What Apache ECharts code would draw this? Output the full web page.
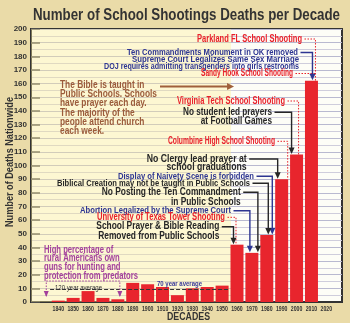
<!DOCTYPE html>
<html><head><meta charset="utf-8">
<script src="https://cdn.jsdelivr.net/npm/echarts@6/dist/echarts.min.js"></script>
<style>html,body{margin:0;padding:0;background:#eadba8;}#c{width:350px;height:323px;}</style>
</head><body><div id="c"></div>
<script>
// ---- data ----
const decades = [1840,1850,1860,1870,1880,1890,1900,1910,1920,1930,1940,1950,1960,1970,1980,1990,2000,2010,2020];
const deaths  = [1,3,8,3,2,14,13,11,5,10,11,12,42,36,49,90,108,162,0];
const yTickLabels = [0,10,20,30,40,50,60,70,80,90,100,110,120,130,140,150,160,170,180,190,200];
const average120 = 9;
const averageSpan = [1834.5, 1954];
const prayerEraEnd = 1956;
const titleText = 'Number of School Shootings Deaths per Decade';
const yAxisTitle = 'Number of Deaths Nationwide';
const xAxisTitle = 'DECADES';

const RED='#e8202a', BLUE='#2d3592', DARK='#262626', BROWN='#9b5b3b', PURPLE='#a3409c';
const FONT="'Liberation Sans',Arial,sans-serif";

const chart = echarts.init(document.getElementById('c'), null, {renderer:'canvas'});
const option = {
  backgroundColor:'#eadba8',
  animation:false,
  grid:{left:31,right:8,top:29,bottom:21,show:true,backgroundColor:'#fdfdf7',borderColor:'#333',borderWidth:2},
  xAxis:{type:'value',min:1821.7,max:2030.5,
    axisLine:{show:true,onZero:false,lineStyle:{color:'#333',width:2}},
    axisTick:{show:false},splitLine:{show:false},
    axisLabel:{show:false}},
  yAxis:{type:'value',min:0,max:200,interval:10,
    axisLine:{show:true,lineStyle:{color:'#333',width:2}},
    axisTick:{show:true,inside:true,length:9,lineStyle:{color:'#555',width:1.5}},
    axisLabel:{color:'#333',fontWeight:'bold',fontSize:8,fontFamily:FONT,margin:4,
      formatter:v=>yTickLabels.indexOf(v)>=0?String(v):''},
    splitLine:{show:true,lineStyle:{color:'#b9b9d0',width:1}},
    minorTick:{show:false,splitNumber:2},
    minorSplitLine:{show:true,lineStyle:{color:'#cfcddc',width:1}}},
  series:[{type:'bar',barWidth:13,
    data:decades.map((d,i)=>[d,deaths[i]]),
    itemStyle:{color:'#e8252d'},
    markArea:{silent:true,itemStyle:{color:'rgba(252,236,150,0.38)'},data:[[{xAxis:1821.7},{xAxis:prayerEraEnd}]]},
    markLine:{silent:true,symbol:['none','none'],label:{show:false},
      lineStyle:{color:'#333',type:[4,2],width:1},
      data:[[{coord:[averageSpan[0],average120]},{coord:[averageSpan[1],average120]}]]}
  }]
};
chart.setOption(option);

// ---- annotations ----
const mctx = document.createElement('canvas').getContext('2d');
function fit(lines,font,w){mctx.font=font;const m=Math.max(...lines.map(l=>mctx.measureText(l).width));return w?w/m:1;}
function texts(lines,o){
  const font=`${o.weight||'bold'} ${o.size}px ${FONT}`;
  const s=o.scale||fit(lines,font,o.w);
  return lines.map((ln,i)=>({type:'text',x:o.x,y:o.y+i*(o.lh||0),scaleX:s,rotation:o.rot||0,z:20,
    style:{text:ln,font,fill:o.color,textAlign:o.align||'left',textVerticalAlign:'middle'}}));
}
function P(x,y){return chart.convertToPixel({gridIndex:0},[x,y]);}
function cx(dec){return P(dec,0)[0];}
function barTop(dec){return P(dec,deaths[decades.indexOf(dec)])[1];}
function conn(pts,color,dotted,arrow){
  const p=pts.map(a=>a.slice());
  const els=[];
  if(arrow){const t=p[p.length-1];const tip=[t[0],t[1]-0.5];t[1]-=5;
    els.push({type:'polygon',z:18,shape:{points:[[tip[0]-3,tip[1]-6.5],[tip[0]+3,tip[1]-6.5],tip]},style:{fill:color}});}
  els.push({type:'polyline',z:17,shape:{points:p},style:{stroke:color,lineWidth:dotted?1:1.4,lineDash:dotted?[1.5,1.5]:null,fill:null}});
  return els;
}
const notes=[
 {l:['Parkland FL School Shooting'],x:302,y:39,w:105,size:10.5,c:RED,dec:2010,dx:4,t:'dot'},
 {l:['Ten Commandments Monument in OK removed'],x:298,y:52.5,w:171,size:9.5,c:BLUE,dec:2010,dx:1,t:'arrow'},
 {l:['Supreme Court Legalizes Same Sex Marriage'],x:299,y:59.5,w:167,size:9.5,c:BLUE},
 {l:['DOJ requires admitting transgenders into girls restrooms'],x:299,y:66.5,w:195,size:9.5,c:BLUE},
 {l:['Sandy Hook School Shooting'],x:293,y:73.5,w:92,size:10,c:RED,dec:2010,dx:4,t:'hdot'},
 {l:['Virginia Tech School Shooting'],x:285,y:101,w:108,size:10.5,c:RED,dec:2000,dx:2,t:'dot'},
 {l:['No student led prayers','at Football Games'],x:272,y:112.3,lh:9,w:89,size:10,c:DARK,dec:2000,dx:-5,t:'arrow'},
 {l:['Columbine High School Shooting'],x:275,y:141.3,w:107,size:10.5,c:RED,dec:1990,dx:6,t:'dot'},
 {l:['No Clergy lead prayer at','school graduations'],x:246.7,y:159,lh:8.7,w:100,size:10,c:DARK,dec:1990,dx:-4,t:'arrow'},
 {l:['Display of Naivety Scene is forbidden'],x:254,y:176.3,w:136,size:9.5,c:BLUE,dec:1980,dx:5.5,t:'arrow'},
 {l:['Biblical Creation may not be taught in Public Schools'],x:250,y:183.3,w:193,size:9.5,c:DARK,dec:1980,dx:1.5,t:'arrow'},
 {l:['No Posting the Ten Commandment','in Public Schools'],x:240.7,y:192.3,lh:9.4,w:139,size:10.5,c:DARK,dec:1970,dx:6,t:'arrow'},
 {l:['Abortion Legalized by the Supreme Court'],x:231,y:210.7,w:151,size:9.5,c:BLUE,dec:1970,dx:-2,t:'arrow'},
 {l:['University of Texas Tower Shooting'],x:225,y:217.3,w:128,size:10,c:RED,dec:1960,dx:-1,t:'dot'},
 {l:['School Prayer & Bible Reading','Removed from Public Schools'],x:219.3,y:226.7,lh:9.3,w:123,size:10,c:DARK,dec:1960,dx:-3.5,t:'arrow'}
];
let g=[];
g=g.concat(texts([titleText],{x:186.5,y:16,w:307,size:16,color:'#333',align:'center'}));
g=g.concat(texts([xAxisTitle],{x:188.5,y:317,w:43,size:10.5,color:'#333',align:'center'}));
g=g.concat(texts([yAxisTitle],{x:9.5,y:162,w:130,size:11,color:'#333',align:'center',rot:Math.PI/2}));
// x tick labels from the decades array, placed with the axis scale
const lblFont='bold 7.5px '+FONT;
const lblScale=fit(['1840'],lblFont,11.5);
decades.forEach(d=>{
  g=g.concat(texts([String(d)],{x:cx(d),y:P(d,0)[1]+7,size:7.5,scale:lblScale,color:'#333',align:'center'}));
});
notes.forEach(n=>{
  g=g.concat(texts(n.l,{x:n.x,y:n.y,lh:n.lh,w:n.w,size:n.size,color:n.c,align:'right'}));
  if(n.t){
    const xt=cx(n.dec)+n.dx, y0=n.y, x0=n.x+2.5;
    if(n.t==='hdot') g=g.concat(conn([[x0,y0],[xt,y0]],n.c,true,false));
    else if(n.t==='dot') g=g.concat(conn([[x0,y0],[xt,y0],[xt,barTop(n.dec)]],n.c,true,false));
    else g=g.concat(conn([[x0,y0],[xt,y0],[xt,barTop(n.dec)]],n.c,false,true));
  }
});
g=g.concat(texts(['The Bible is taught in','Public Schools. Schools','have prayer each day.','The majority of the','people attend church','each week.'],
  {x:60,y:85,lh:9.3,w:97,size:10,color:BROWN,align:'left'}));
const bx=P(prayerEraEnd,0)[0]+3;
g.push({type:'polyline',z:17,shape:{points:[[160,86.5],[bx-6,86.5]]},style:{stroke:'#a0603a',lineWidth:2,fill:null}});
g.push({type:'polygon',z:17,shape:{points:[[bx-7,83],[bx,86.5],[bx-7,90]]},style:{fill:'#a0603a'}});
g=g.concat(texts(['High percentage of','rural Americans own','guns for hunting and','protection from predators'],
  {x:44,y:250,lh:8.6,w:94,size:10,color:PURPLE,align:'left'}));
const pl=cx(1840)-12, pr=cx(1880)+2;
g=g.concat(conn([[pl,296],[pl,281],[pr,281],[pr,296]],PURPLE,true,false));
g.push({type:'polygon',z:18,shape:{points:[[pl-2.5,291],[pl+2.5,291],[pl,297]]},style:{fill:PURPLE}});
g.push({type:'polygon',z:18,shape:{points:[[pr-2.5,291],[pr+2.5,291],[pr,297]]},style:{fill:PURPLE}});
g=g.concat(texts(['120 year average'],{x:55,y:287.5,w:47,size:7.5,weight:'normal',color:'#333',align:'left'}));
g=g.concat(texts(['70 year average'],{x:157,y:283.3,w:45,size:8,color:'#3a3a9a',align:'left'}));
chart.setOption({graphic:{elements:g}});
</script></body></html>
